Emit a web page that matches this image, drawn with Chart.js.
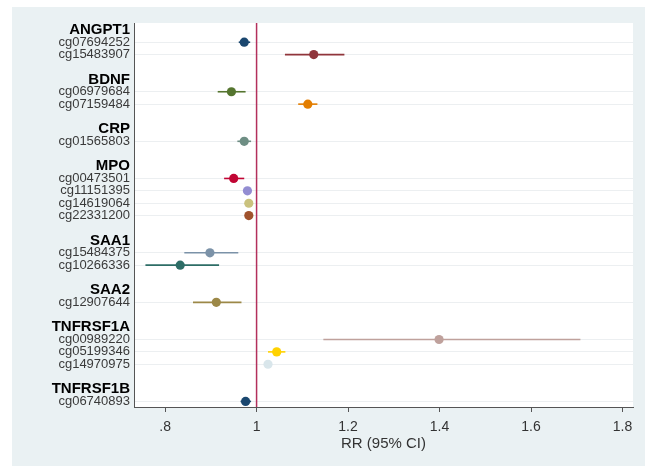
<!DOCTYPE html>
<html>
<head>
<meta charset="utf-8">
<script src="https://cdn.jsdelivr.net/npm/chart.js@4/dist/chart.umd.min.js"></script>
<style>
    html, body { margin: 0; padding: 0; background: #fff; }
    #panel { position: absolute; left: 12px; top: 7px; width: 633px; height: 459px; background: #eaf1f3; }
</style>
</head>
<body>
<div id="panel"><canvas id="forest" width="633" height="459"></canvas></div>
<script>
    // genes (group headers) and the CpG sites under each
    var genes = ['ANGPT1', 'BDNF', 'CRP', 'MPO', 'SAA1', 'SAA2', 'TNFRSF1A', 'TNFRSF1B'];
    var cpgSites = ['cg07694252', 'cg15483907', 'cg06979684', 'cg07159484', 'cg01565803',
        'cg00473501', 'cg11151395', 'cg14619064', 'cg22331200', 'cg15484375', 'cg10266336',
        'cg12907644', 'cg00989220', 'cg05199346', 'cg14970975', 'cg06740893'];
    var cpgGene = ['ANGPT1', 'ANGPT1', 'BDNF', 'BDNF', 'CRP',
        'MPO', 'MPO', 'MPO', 'MPO', 'SAA1', 'SAA1',
        'SAA2', 'TNFRSF1A', 'TNFRSF1A', 'TNFRSF1A', 'TNFRSF1B'];
    var rr     = [0.973, 1.125, 0.945, 1.112, 0.973, 0.950, 0.980, 0.983, 0.983, 0.898, 0.833, 0.912, 1.399, 1.044, 1.025, 0.976];
    var ciLow  = [0.961, 1.062, 0.915, 1.091, 0.958, 0.929, 0.975, 0.978, 0.978, 0.842, 0.757, 0.861, 1.146, 1.025, 1.018, 0.965];
    var ciHigh = [0.986, 1.192, 0.976, 1.133, 0.988, 0.973, 0.985, 0.988, 0.988, 0.960, 0.918, 0.967, 1.708, 1.063, 1.032, 0.988];
    var xTicks = [0.8, 1, 1.2, 1.4, 1.6, 1.8];
    var refValue = 1;

    // stata s2color cycle
    var palette = ['#1a476f', '#90353b', '#55752f', '#e37e00', '#6e8e84', '#c10534', '#938dd2', '#cac27e',
        '#a0522d', '#7b92a8', '#2d6d66', '#9c8847', '#bfa19c', '#ffd200', '#d9e6eb', '#1a476f'];

    var yMin = -0.55, yMax = 30.45;

    // row slots: header, sites, blank spacer
    var slots = [];
    var rowPos = [];
    var pos = 0;
    genes.forEach(function(g, gi) {
        slots.push({ value: pos, label: g, header: true });
        pos++;
        cpgSites.forEach(function(site, i) {
            if (cpgGene[i] === g) {
                slots.push({ value: pos, label: site, header: false });
                rowPos[i] = pos;
                pos++;
            }
        });
        pos++;
    });

    var datasets = [];
    datasets.push({
        type: 'line',
        data: [{ x: refValue, y: yMin }, { x: refValue, y: yMax }],
        borderColor: '#b3305c',
        borderWidth: 1.5,
        pointRadius: 0,
        order: 3
    });
    cpgSites.forEach(function(site, i) {
        datasets.push({
            type: 'line',
            data: [{ x: ciLow[i], y: rowPos[i] }, { x: ciHigh[i], y: rowPos[i] }],
            borderColor: palette[i],
            borderWidth: 1.6,
            pointRadius: 0,
            order: 2
        });
    });
    datasets.push({
        type: 'scatter',
        data: cpgSites.map(function(s, i) { return { x: rr[i], y: rowPos[i] }; }),
        pointBackgroundColor: palette,
        pointBorderColor: palette,
        pointBorderWidth: 0,
        pointRadius: 4.6,
        order: 1
    });

    var plotBg = {
        id: 'plotBg',
        beforeDraw: function(chart) {
            var a = chart.chartArea;
            var c = chart.ctx;
            c.save();
            c.fillStyle = '#ffffff';
            c.fillRect(a.left, a.top, a.right - a.left, a.bottom - a.top);
            c.restore();
        }
    };

    new Chart(document.getElementById('forest'), {
        type: 'scatter',
        data: { datasets: datasets },
        plugins: [plotBg],
        options: {
            responsive: false,
            animation: false,
            layout: { padding: { top: 16, right: 12, left: 0, bottom: 0 } },
            plugins: { legend: { display: false }, tooltip: { enabled: false } },
            scales: {
                x: {
                    type: 'linear',
                    min: 0.732,
                    max: 1.823,
                    afterBuildTicks: function(scale) {
                        scale.ticks = xTicks.map(function(v) { return { value: v }; });
                    },
                    afterFit: function(scale) { scale.height = 59; },
                    ticks: {
                        font: { family: 'Liberation Sans, Arial', size: 14 },
                        color: '#333',
                        padding: 7,
                        maxRotation: 0,
                        callback: function(v) {
                            return String(v).replace(/^0\./, '.');
                        }
                    },
                    grid: { drawOnChartArea: false, tickLength: 5, color: '#555' },
                    border: { color: '#555', width: 1 },
                    title: {
                        display: true,
                        text: 'RR (95% CI)',
                        font: { family: 'Liberation Sans, Arial', size: 15 },
                        color: '#333',
                        padding: { top: 0, bottom: 13 }
                    }
                },
                y: {
                    type: 'linear',
                    reverse: true,
                    min: yMin,
                    max: yMax,
                    afterBuildTicks: function(scale) {
                        scale.ticks = slots.map(function(s) { return { value: s.value }; });
                    },
                    afterFit: function(scale) { scale.width = 122; },
                    ticks: {
                        autoSkip: false,
                        padding: 4,
                        callback: function(v, i) { return slots[i].label; },
                        font: function(ctx) {
                            if (slots[ctx.index] && slots[ctx.index].header) {
                                return { family: 'Liberation Sans, Arial', size: 15, weight: 'bold' };
                            }
                            return { family: 'Liberation Sans, Arial', size: 13 };
                        },
                        color: function(ctx) {
                            return slots[ctx.index] && slots[ctx.index].header ? '#000' : '#3a3a3a';
                        }
                    },
                    grid: {
                        drawTicks: false,
                        color: function(ctx) {
                            return slots[ctx.index] && slots[ctx.index].header ? 'rgba(0,0,0,0)' : '#eceff1';
                        }
                    },
                    border: { color: '#555', width: 1 }
                }
            }
        }
    });
</script>
</body>
</html>
